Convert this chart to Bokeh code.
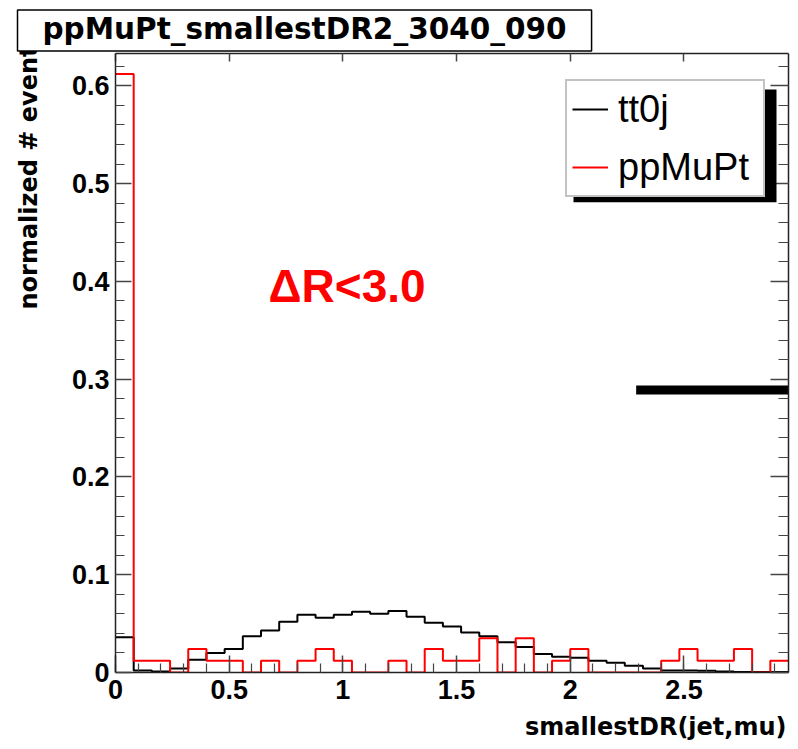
import numpy as np
from bokeh.plotting import figure
from bokeh.models import (Range1d, LinearAxis, FixedTicker, Label, Legend,
                          LegendItem, BoxAnnotation, Title)
from bokeh.embed import file_html
from bokeh.resources import INLINE

# ---------------- data ----------------
title_text = "ppMuPt_smallestDR2_3040_090"
x_title = "smallestDR(jet,mu)"
y_title = "normalized # events"
series_names = ["tt0j", "ppMuPt"]
cut_text = "\u0394R<3.0"

x_lo, x_hi, n_bins = 0.0, 2.96, 37
y_lo, y_hi = 0.0, 0.633

tt0j = [0.036, 0.002, 0.001, 0.004, 0.013, 0.020, 0.024, 0.037, 0.043, 0.052,
        0.059, 0.056, 0.059, 0.062, 0.060, 0.063, 0.057, 0.051, 0.047, 0.041,
        0.037, 0.031, 0.026, 0.019, 0.016, 0.015, 0.012, 0.010, 0.007, 0.004,
        0.002, 0.002, 0.0017, 0.001, 0.0005, 0.0005, 0.0005]
ppMuPt = [0.612, 0.012, 0.012, 0.0, 0.024, 0.012, 0.012, 0.0, 0.012, 0.0,
          0.012, 0.024, 0.012, 0.0, 0.0, 0.012, 0.0, 0.024, 0.012, 0.012,
          0.035, 0.0, 0.035, 0.0, 0.012, 0.024, 0.0, 0.0, 0.0, 0.0,
          0.012, 0.024, 0.012, 0.012, 0.024, 0.0, 0.012]

x_ticks = [0.0, 0.5, 1.0, 1.5, 2.0, 2.5]
x_tick_labels = ["0", "0.5", "1", "1.5", "2", "2.5"]
y_ticks = [0.0, 0.1, 0.2, 0.3, 0.4, 0.5, 0.6]
y_tick_labels = ["0", "0.1", "0.2", "0.3", "0.4", "0.5", "0.6"]

cut_line_x = [2.29, 3.0]
cut_line_y = 0.289

# ---------------- layout ----------------
W, H = 798, 749
FL, FR, FT, FB = 115, 788, 53, 673


def dx(px):
    return x_lo + (px - FL) / (FR - FL) * (x_hi - x_lo)


def dy(py):
    return y_lo + (FB - py) / (FB - FT) * (y_hi - y_lo)


p = figure(width=W, height=H, output_backend="svg", toolbar_location=None,
           x_range=Range1d(x_lo, x_hi), y_range=Range1d(y_lo, y_hi),
           min_border_left=FL, min_border_right=W - FR,
           min_border_top=FT, min_border_bottom=H - FB)
p.xgrid.visible = False
p.ygrid.visible = False
p.outline_line_color = None
p.background_fill_color = "white"
p.border_fill_color = "white"

edges = np.linspace(x_lo, x_hi, n_bins + 1)
r_tt = p.step(x=edges, y=tt0j + [tt0j[-1]], mode="after",
              line_color="black", line_width=2)
r_pp = p.step(x=edges, y=ppMuPt + [ppMuPt[-1]], mode="after",
              line_color="#ff0000", line_width=2)

p.segment(x0=[cut_line_x[0]], x1=[cut_line_x[1]], y0=[cut_line_y],
          y1=[cut_line_y], line_color="black", line_width=9)

xminor = [round(0.1 * i, 2) for i in range(0, 30)]
yminor = [round(0.02 * i, 2) for i in range(0, 32)]

TICK_FONT = "Liberation Sans"
AX_COL = "#222222"
TICK_COL = "#444444"


def style_axis(ax, labels=True):
    ax.axis_line_color = AX_COL
    ax.axis_line_width = 1.5
    ax.major_tick_line_color = TICK_COL
    ax.minor_tick_line_color = TICK_COL
    ax.major_tick_line_width = 1.5
    ax.minor_tick_line_width = 1.2
    ax.major_tick_out = 0
    ax.minor_tick_out = 0
    if labels:
        ax.major_label_text_font = TICK_FONT
        ax.major_label_text_font_style = "bold"
        ax.major_label_text_font_size = "27px"
        ax.major_label_text_color = "black"
    else:
        ax.major_label_text_font_size = "0px"
        ax.major_label_standoff = 0


xax = p.xaxis[0]
xax.ticker = FixedTicker(ticks=x_ticks, minor_ticks=xminor)
xax.major_label_overrides = {t: l for t, l in zip(x_ticks, x_tick_labels)}
style_axis(xax)
xax.major_tick_in = 17
xax.minor_tick_in = 9
xax.major_label_standoff = 7

yax = p.yaxis[0]
yax.ticker = FixedTicker(ticks=y_ticks, minor_ticks=yminor)
yax.major_label_overrides = {t: l for t, l in zip(y_ticks, y_tick_labels)}
style_axis(yax)
yax.major_tick_in = 16
yax.minor_tick_in = 9
yax.major_label_standoff = 6

# invisible spacer axis between the y axis and its title
spacer = LinearAxis(ticker=FixedTicker(ticks=[y_ticks[3]], minor_ticks=[]),
                    axis_line_color=None, major_tick_line_color=None,
                    minor_tick_line_color=None, major_tick_out=14,
                    minor_tick_out=0, major_tick_in=0, minor_tick_in=0,
                    major_label_text_font_size="1px",
                    major_label_text_alpha=0.0, major_label_standoff=0)
p.add_layout(spacer, "left")

rax = LinearAxis(ticker=FixedTicker(ticks=y_ticks, minor_ticks=yminor))
style_axis(rax, labels=False)
rax.major_tick_in = 18
rax.minor_tick_in = 10
p.add_layout(rax, "right")

tax = LinearAxis(ticker=FixedTicker(ticks=x_ticks, minor_ticks=[]))
style_axis(tax, labels=False)
tax.major_tick_in = 8
tax.minor_tick_in = 0
p.add_layout(tax, "above")

# legend shadow + legend
shadow = BoxAnnotation(left=dx(573), right=dx(776), top=dy(89), bottom=dy(202),
                       fill_color="black", fill_alpha=1.0, line_color=None,
                       level="overlay")
legend = Legend(items=[LegendItem(label=series_names[0], renderers=[r_tt]),
                       LegendItem(label=series_names[1], renderers=[r_pp])],
                location=(565 - FL, FB - 198), orientation="vertical",
                label_text_font="Liberation Sans", label_text_font_size="38px",
                label_text_color="black", label_height=46, glyph_height=46,
                glyph_width=36, label_standoff=10, label_width=140,
                spacing=12, padding=5, margin=0,
                border_line_color="#888888", border_line_width=2,
                background_fill_color="white", background_fill_alpha=1.0,
                level="overlay")
p.add_layout(shadow)
p.add_layout(legend)

# cut annotation
p.add_layout(Label(x=dx(268), y=dy(286), text=cut_text, text_color="#ff0000",
                   text_font="Liberation Sans", text_font_style="bold",
                   text_font_size="46px", text_align="left",
                   text_baseline="alphabetic"))

# axis titles (side-panel titles, so that they are drawn outside the frame)
xt = Title(text=x_title, align="right", offset=2, standoff=18,
           text_font="DejaVu Sans", text_font_style="bold",
           text_font_size="24px", text_color="black")
p.add_layout(xt, "below")

yt = Title(text=y_title, align="left", offset=FB - 310, standoff=24,
           text_font="DejaVu Sans", text_font_style="bold",
           text_font_size="24px", text_color="black")
p.add_layout(yt, "left")

# boxed main title
p.title.text = title_text
p.title.align = "left"
p.title.offset = 17 - FL
p.title.standoff = 5
p.title.text_font = "DejaVu Sans"
p.title.text_font_style = "bold"
p.title.text_font_size = "29.5px"
p.title.text_color = "black"
p.title.background_fill_color = "white"
p.title.background_fill_alpha = 1.0
p.title.border_line_color = "black"
p.title.border_line_width = 1.5
p.title.padding = dict(left=25, right=25, top=2, bottom=5)

open("out.html", "w").write(file_html(p, INLINE))
